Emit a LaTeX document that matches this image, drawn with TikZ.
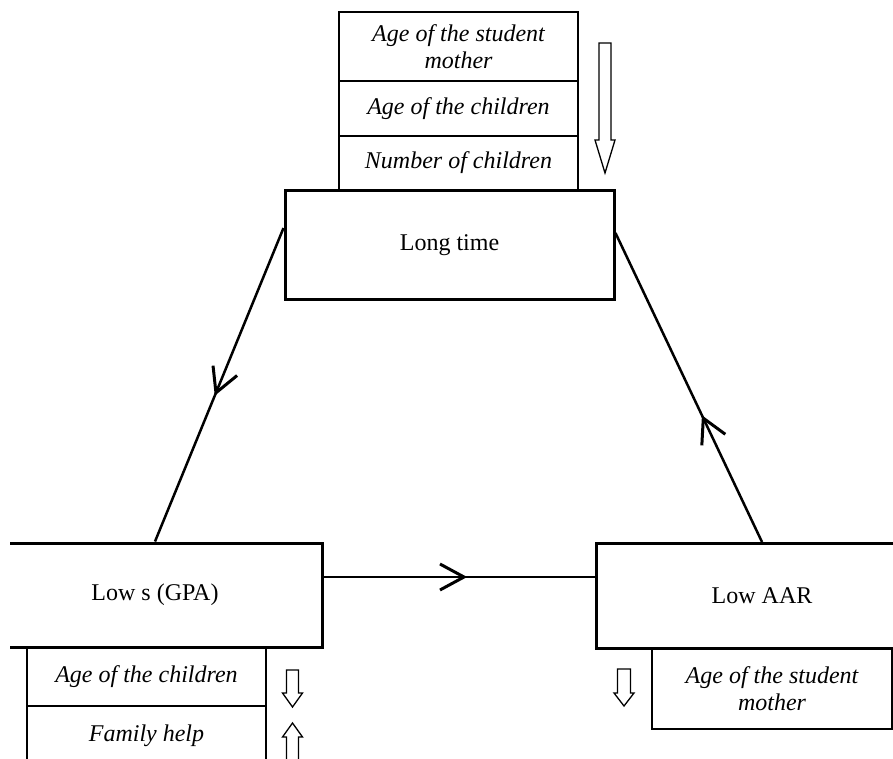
\documentclass[tikz,border=0pt]{standalone}
\usepackage{fontspec}
\setmainfont{Liberation Serif}
\usetikzlibrary{arrows.meta,decorations.markings}
\tikzset{
  mainbox/.style={draw, line width=3pt, inner sep=0pt, fill=white,
    font=\fontsize{24}{27}\selectfont},
  subbox/.style={draw, line width=1.3pt, inner sep=0pt, align=center,
    minimum width=239pt, font=\fontsize{24}{27}\selectfont\itshape},
  conn/.style={line width=2.5pt},
  midarrow/.style={decoration={markings, mark=at position #1 with
    {\arrow{Straight Barb[length=24pt,width=26pt,line width=3pt]}}},
    postaction={decorate}},
  hollow/.style={draw, line width=1.3pt, fill=white, line join=miter}
}
\begin{document}
\begin{tikzpicture}[x=1pt,y=-1pt]
\useasboundingbox (0,0) rectangle (893,758);
\clip (10,0) rectangle (893,758);
% top stack
\node[subbox, minimum height=69pt] (t1) at (458.5,46.5) {Age of the student\\mother};
\node[subbox, minimum height=55pt] (t2) at (458.5,108.5) {Age of the children};
\node[subbox, minimum height=54pt] (t3) at (458.5,163) {Number of children};
% main boxes
\node[mainbox, minimum width=329pt, minimum height=109pt] (long) at (449.5,245) {Long time};
\node[mainbox, minimum width=334pt, minimum height=104pt] (lows) at (155,595) {Low s (GPA)};
\node[mainbox, minimum width=332pt, minimum height=105pt] (aar) at (762,596) {Low AAR};
% bottom left stack
\node[subbox, minimum height=59pt] (b1) at (146.5,676.5) {Age of the children};
\node[subbox, minimum height=59pt] (b2) at (146.5,735.5) {Family help};
% bottom right
\node[subbox, minimum width=240pt, minimum height=80pt] (b3) at (772,689) {Age of the student\\mother};
% connectors
\draw[conn, midarrow=0.535] ([yshift=17pt]long.west) -- (lows.north);
\draw[conn, midarrow=0.53] ([yshift=18pt]lows.east) -- ([yshift=19pt]aar.west);
\draw[conn, midarrow=0.41] (aar.north) -- ([yshift=12pt]long.east);
% hollow arrows
\draw[hollow] (599,43) -- (611,43) -- (611,140) -- (615,140) -- (605,173) -- (595,140) -- (599,140) -- cycle;
\draw[hollow] (286.5,670) -- (298.5,670) -- (298.5,693) -- (302.5,693) -- (292.5,707) -- (282.5,693) -- (286.5,693) -- cycle;
\draw[hollow] (286.5,770) -- (298.5,770) -- (298.5,737) -- (302.5,737) -- (292.5,723) -- (282.5,737) -- (286.5,737) -- cycle;
\draw[hollow] (617.5,669) -- (630.5,669) -- (630.5,693) -- (634,693) -- (624,706) -- (614,693) -- (617.5,693) -- cycle;
\end{tikzpicture}
\end{document}
